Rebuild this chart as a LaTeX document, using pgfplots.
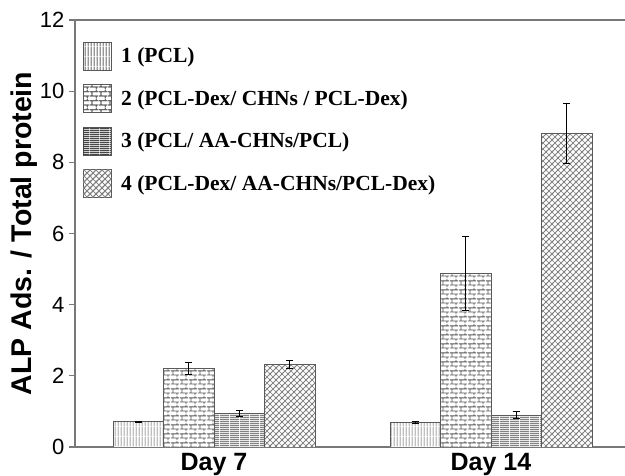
\documentclass[border=0pt]{standalone}
\usepackage{pgfplots}
\pgfplotsset{compat=1.18}
\usepackage{fontspec}
\setmainfont{Liberation Sans}
\newfontfamily\legfont{Liberation Serif}
\usetikzlibrary{patterns}
\definecolor{axgray}{RGB}{120,120,120}
\definecolor{bargray}{RGB}{90,90,90}

\pgfdeclarepatternformonly{myvlines}{\pgfpointorigin}{\pgfqpoint{3pt}{10pt}}{\pgfqpoint{3pt}{10pt}}{
  \pgfsetlinewidth{0.8pt}
  \pgfpathmoveto{\pgfqpoint{1.5pt}{0pt}}\pgfpathlineto{\pgfqpoint{1.5pt}{10pt}}
  \pgfusepath{stroke}}
\pgfdeclarepatternformonly{myhlines}{\pgfpointorigin}{\pgfqpoint{10pt}{2.2pt}}{\pgfqpoint{10pt}{2.2pt}}{
  \pgfsetlinewidth{1.1pt}
  \pgfpathmoveto{\pgfqpoint{0pt}{1.1pt}}\pgfpathlineto{\pgfqpoint{10pt}{1.1pt}}
  \pgfusepath{stroke}}
\pgfdeclarepatternformonly{mybricks}{\pgfpointorigin}{\pgfqpoint{9pt}{9pt}}{\pgfqpoint{9pt}{9pt}}{
  \pgfsetlinewidth{0.9pt}
  \pgfpathmoveto{\pgfqpoint{0pt}{2.25pt}}\pgfpathlineto{\pgfqpoint{9pt}{2.25pt}}
  \pgfpathmoveto{\pgfqpoint{0pt}{6.75pt}}\pgfpathlineto{\pgfqpoint{9pt}{6.75pt}}
  \pgfpathmoveto{\pgfqpoint{2.25pt}{2.25pt}}\pgfpathlineto{\pgfqpoint{2.25pt}{6.75pt}}
  \pgfpathmoveto{\pgfqpoint{6.75pt}{6.75pt}}\pgfpathlineto{\pgfqpoint{6.75pt}{9pt}}
  \pgfpathmoveto{\pgfqpoint{6.75pt}{0pt}}\pgfpathlineto{\pgfqpoint{6.75pt}{2.25pt}}
  \pgfusepath{stroke}}
\pgfdeclarepatternformonly{mydiag}{\pgfqpoint{-1pt}{-1pt}}{\pgfqpoint{7pt}{7pt}}{\pgfqpoint{6pt}{6pt}}{
  \pgfsetlinewidth{0.9pt}
  \pgfpathmoveto{\pgfqpoint{-1pt}{-1pt}}\pgfpathlineto{\pgfqpoint{7pt}{7pt}}
  \pgfusepath{stroke}
  \pgfsetlinewidth{0.45pt}
  \pgfpathmoveto{\pgfqpoint{-1pt}{7pt}}\pgfpathlineto{\pgfqpoint{7pt}{-1pt}}
  \pgfusepath{stroke}}

\pgfplotsset{boxleg/.style 2 args={legend image code/.code={\path[draw=none, line width=0pt, fill=white, postaction={draw=none, pattern=#1, pattern color=#2}] (0pt,-14pt) rectangle (28pt,14pt);}}}

\begin{document}
\begin{tikzpicture}
\begin{axis}[
  scale only axis,
  width=550pt, height=427pt,
  xmin=-0.502, xmax=1.484,
  ymin=0, ymax=12,
  ytick={0,2,...,12},
  xtick={0,1},
  xticklabels={Day 7, Day 14},
  yticklabel={\pgfmathprintnumber{\tick}},
  x tick label style={font=\fontsize{25}{25}\selectfont\bfseries, yshift=3pt},
  y tick label style={font=\fontsize{22}{22}\selectfont, xshift=-1pt},
  /pgf/number format/assume math mode=true,
  axis x line*=box,
  axis y line*=left,
  axis line style={axgray, line width=1.4pt},
  major tick length=6pt,
  tick align=outside,
  y tick style={axgray, line width=1.2pt},
  x tick style={draw=none},
  ylabel={\bfseries ALP Ads. / Total protein},
  ylabel style={font=\fontsize{28.5}{28.5}\selectfont, yshift=-4pt},
  ybar, bar width=50.5pt,
  legend cell align=left,
  legend style={at={(axis description cs:0,1)}, anchor=north west,
    xshift=8pt, yshift=-22pt, draw=none, fill=none,
    font=\legfont\fontsize{21.5}{21.5}\selectfont\bfseries,
    row sep=14.5pt, inner sep=0pt,
    /tikz/every odd column/.style={column sep=8pt}},
  error bars/y dir=both, error bars/y explicit,
  error bars/error bar style={black, line width=0.8pt},
  error bars/error mark options={rotate=90, mark size=3.5pt, line width=0.8pt},
]
\addplot[draw=bargray, line width=0.9pt, fill=white,
  postaction={pattern=myvlines, pattern color=black!70}, bar shift=-75.75pt,
  boxleg={myvlines}{black!70}]
  coordinates {(0,0.71) +- (0,0.02) (1,0.70) +- (0,0.03)};
\addlegendentry{1 (PCL)}
\addplot[draw=bargray, line width=0.9pt, fill=white,
  postaction={pattern=mybricks, pattern color=black!65}, bar shift=-25.25pt,
  boxleg={mybricks}{black!65}]
  coordinates {(0,2.21) +- (0,0.16) (1,4.88) +- (0,1.03)};
\addlegendentry{2 (PCL-Dex/ CHNs / PCL-Dex)}
\addplot[draw=bargray, line width=0.9pt, fill=white,
  postaction={pattern=myhlines, pattern color=black!75}, bar shift=25.25pt,
  boxleg={myhlines}{black!85}]
  coordinates {(0,0.95) +- (0,0.09) (1,0.90) +- (0,0.11)};
\addlegendentry{3 (PCL/ AA-CHNs/PCL)}
\addplot[draw=bargray, line width=0.9pt, fill=white,
  postaction={pattern=mydiag, pattern color=black!50}, bar shift=75.75pt,
  boxleg={mydiag}{black!50}]
  coordinates {(0,2.32) +- (0,0.12) (1,8.81) +- (0,0.84)};
\addlegendentry{4 (PCL-Dex/ AA-CHNs/PCL-Dex)}
\end{axis}
\pgfresetboundingbox
\path (-75pt,-29pt) rectangle (550pt,447pt);
\end{tikzpicture}
\end{document}
